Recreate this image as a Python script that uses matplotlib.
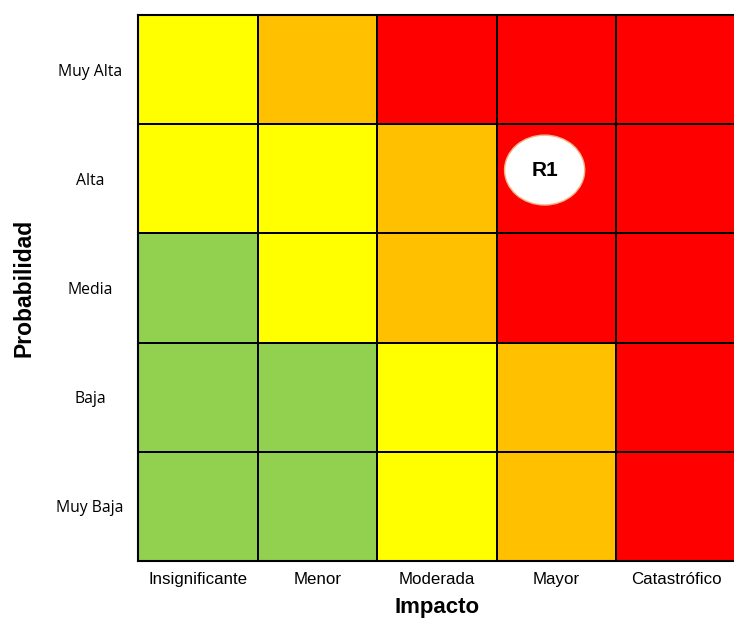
import matplotlib
matplotlib.use("Agg")
import matplotlib.pyplot as plt
from matplotlib.colors import ListedColormap
from matplotlib.patches import Ellipse
import numpy as np

impact = ["Insignificante", "Menor", "Moderada", "Mayor", "Catastrófico"]
probability = ["Muy Baja", "Baja", "Media", "Alta", "Muy Alta"]  # bottom to top
# risk levels: 0 green, 1 yellow, 2 orange, 3 red  (rows bottom -> top)
levels = [
    [0, 0, 1, 2, 3],  # Muy Baja
    [0, 0, 1, 2, 3],  # Baja
    [0, 1, 2, 3, 3],  # Media
    [1, 1, 2, 3, 3],  # Alta
    [1, 2, 3, 3, 3],  # Muy Alta
]
level_colors = ["#92D050", "#FFFF00", "#FFC000", "#FF0000"]
risk_label = "R1"
risk_impact = 3.40
risk_prob = 3.58

fig = plt.figure(figsize=(7.34, 6.2), dpi=100)
ax = fig.add_axes([138/734, 1-561/620, 598/734, 546/620])
cmap = ListedColormap(level_colors)
ax.pcolormesh(np.arange(6), np.arange(6), np.array(levels), cmap=cmap,
              vmin=-0.5, vmax=3.5, edgecolors="black", linewidth=1.3)
ax.set_xlim(0, 5)
ax.set_ylim(0, 5)
for s in ax.spines.values():
    s.set_linewidth(1.5)
ax.set_xticks(np.arange(5) + 0.5)
ax.set_xticklabels(impact, fontsize=12.2, family="Liberation Sans")
ax.set_yticks(np.arange(5) + 0.5)
ax.set_yticklabels(probability, fontsize=11.3, family="Open Sans", ha="center")
ax.tick_params(axis="both", length=0)
ax.tick_params(axis="x", pad=8)
ax.tick_params(axis="y", pad=34.5)

ax.add_patch(Ellipse((risk_impact, risk_prob), 0.67, 0.64, facecolor="white",
                     edgecolor="#F4B183", linewidth=1.0, zorder=3))
ax.text(risk_impact, risk_prob, risk_label, ha="center", va="center",
        fontsize=15, fontweight="bold", family="Liberation Sans", zorder=4)

fig.text(437/734, 1-607/620, "Impacto", ha="center", va="center",
         fontsize=16, fontweight="bold", family="Liberation Sans")
fig.text(24/734, 1-288/620, "Probabilidad", ha="center", va="center",
         rotation=90, fontsize=16.5, fontweight="bold", family="Liberation Sans")

fig.savefig("out.png", dpi=100)
